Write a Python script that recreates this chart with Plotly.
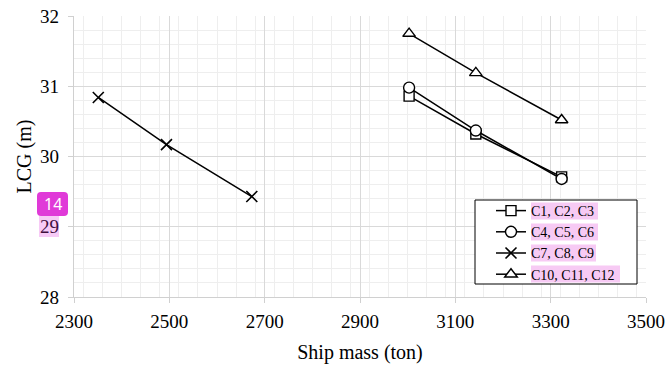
import plotly.graph_objects as go

# Data
series_names = ["C1, C2, C3", "C4, C5, C6", "C7, C8, C9", "C10, C11, C12"]
mass_c1_c3 = [3003, 3143, 3323]
lcg_c1_c3 = [30.86, 30.32, 29.71]
mass_c4_c6 = [3003, 3143, 3323]
lcg_c4_c6 = [30.98, 30.37, 29.68]
mass_c7_c9 = [2351, 2494, 2673]
lcg_c7_c9 = [30.84, 30.17, 29.43]
mass_c10_c12 = [3003, 3143, 3323]
lcg_c10_c12 = [31.75, 31.19, 30.52]

x_ticks = [2300, 2500, 2700, 2900, 3100, 3300, 3500]
y_ticks = [28, 29, 30, 31, 32]

SERIF = "Liberation Serif, Times New Roman, serif"

W, H = 668, 366
L, R, T, B = 74, 22, 16, 69
PW, PH = W - L - R, H - T - B


def px(x):
    return (x - L) / PW


def py(y):
    return (H - B - y) / PH


fig = go.Figure()

marker_styles = [
    dict(symbol="square", size=10),
    dict(symbol="circle", size=11),
    dict(symbol="x-thin", size=11),
    dict(symbol="triangle-up", size=11),
]
xs = [mass_c1_c3, mass_c4_c6, mass_c7_c9, mass_c10_c12]
ys = [lcg_c1_c3, lcg_c4_c6, lcg_c7_c9, lcg_c10_c12]

for name, x, y, ms in zip(series_names, xs, ys, marker_styles):
    if ms["symbol"] == "x-thin":
        mk = dict(symbol="x-thin", size=ms["size"], color="black",
                  line=dict(color="black", width=1.6))
    else:
        mk = dict(symbol=ms["symbol"], size=ms["size"], color="white",
                  line=dict(color="black", width=1.4))
    fig.add_trace(go.Scatter(
        x=x, y=y, name=name, mode="lines+markers",
        line=dict(color="black", width=1.5), marker=mk,
    ))

shapes = []
# legend box
shapes.append(dict(type="rect", xref="paper", yref="paper",
                   x0=px(475), x1=px(637), y0=py(284), y1=py(200),
                   fillcolor="white", line=dict(color="black", width=1), layer="above"))
# pink highlights behind legend texts
hl = [(531, 598, 211), (531, 598, 232), (531, 596, 253), (531, 620, 274)]
for x0, x1, yc in hl:
    shapes.append(dict(type="rect", xref="paper", yref="paper",
                       x0=px(x0), x1=px(x1), y0=py(yc + 8.5), y1=py(yc - 8.5),
                       fillcolor="#f7caf4", line=dict(width=0), layer="above"))
# pink overlay on "29" tick label
shapes.append(dict(type="rect", xref="paper", yref="paper",
                   x0=px(39), x1=px(59), y0=py(237), y1=py(216),
                   fillcolor="rgba(226,60,220,0.27)", line=dict(width=0), layer="above"))
# magenta badge
bx0, bx1, by0, by1, r = 37, 68, 192, 216, 4
path = (f"M {px(bx0 + r)},{py(by0)} L {px(bx1 - r)},{py(by0)} "
        f"Q {px(bx1)},{py(by0)} {px(bx1)},{py(by0 + r)} L {px(bx1)},{py(by1 - r)} "
        f"Q {px(bx1)},{py(by1)} {px(bx1 - r)},{py(by1)} L {px(bx0 + r)},{py(by1)} "
        f"Q {px(bx0)},{py(by1)} {px(bx0)},{py(by1 - r)} L {px(bx0)},{py(by0 + r)} "
        f"Q {px(bx0)},{py(by0)} {px(bx0 + r)},{py(by0)} Z")
shapes.append(dict(type="path", xref="paper", yref="paper", path=path,
                   fillcolor="#e03ad8", line=dict(width=0), layer="above"))

fig.update_layout(
    width=W, height=H,
    margin=dict(l=L, r=R, t=T, b=B, autoexpand=False),
    paper_bgcolor="white", plot_bgcolor="white",
    font=dict(family=SERIF, color="black", size=18),
    showlegend=True,
    legend=dict(x=px(491), y=py(195), xanchor="left", yanchor="top",
                bgcolor="rgba(0,0,0,0)", borderwidth=0,
                font=dict(family=SERIF, size=14, color="black"),
                tracegroupgap=0, itemwidth=30),
    shapes=shapes,
    annotations=[dict(text="14", xref="paper", yref="paper",
                      x=px(52.5), y=py(204), xanchor="center", yanchor="middle",
                      showarrow=False,
                      font=dict(family="Noto Sans, sans-serif", size=16, color="white"))],
)

fig.update_xaxes(
    range=[2300, 3500], tickvals=x_ticks, ticktext=[str(v) for v in x_ticks],
    automargin=False,
    showgrid=True, gridcolor="#d9d9d9", gridwidth=1.3,
    minor=dict(dtick=40, showgrid=True, gridcolor="#eeeeee", gridwidth=1),
    showline=True, linecolor="#d0d0d0", linewidth=1.3,
    ticks="outside", ticklen=5, tickcolor="#d0d0d0",
    tickfont=dict(family=SERIF, size=19), ticklabelstandoff=2,
    title=dict(text="Ship mass (ton)", font=dict(family=SERIF, size=20), standoff=14),
    zeroline=False,
)
fig.update_yaxes(
    range=[28, 32], tickvals=y_ticks, ticktext=[str(v) for v in y_ticks],
    automargin=False,
    showgrid=True, gridcolor="#d9d9d9", gridwidth=1.3,
    minor=dict(dtick=0.2, showgrid=True, gridcolor="#eeeeee", gridwidth=1),
    showline=True, linecolor="#d0d0d0", linewidth=1.3,
    ticks="outside", ticklen=5, tickcolor="#d0d0d0",
    tickfont=dict(family=SERIF, size=19), ticklabelstandoff=5,
    title=dict(text="LCG (m)", font=dict(family=SERIF, size=20), standoff=3),
    zeroline=False,
)

fig.write_html("out.html", config={"displayModeBar": False},
               post_script="document.body.style.margin='0';")
